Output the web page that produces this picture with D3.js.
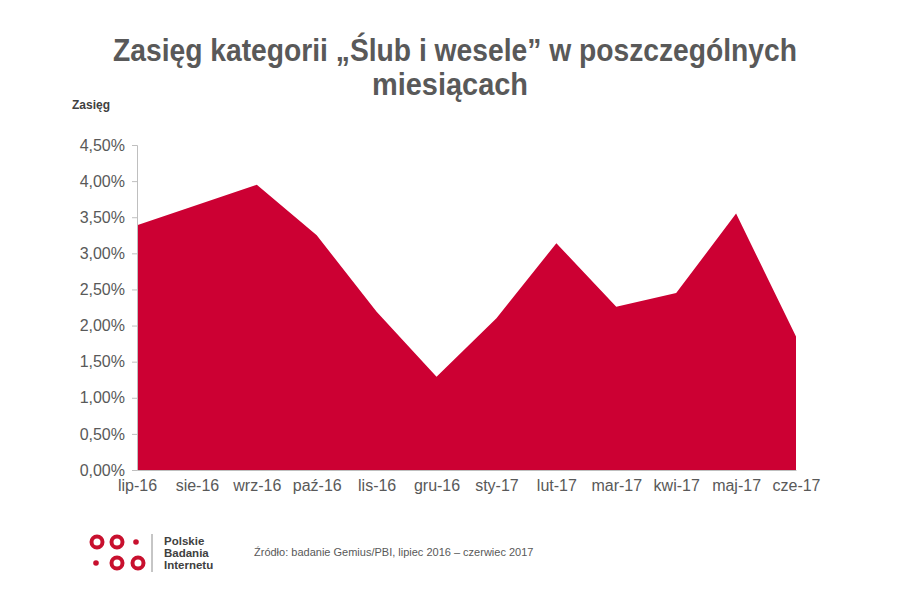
<html>
<head>
<script src="https://d3js.org/d3.v7.min.js"></script>
<style>
  body { margin: 0; background: #fff; }
  svg { font-family: "Liberation Sans Narrow", "Arial Narrow", "Liberation Sans", sans-serif; }
</style>
</head>
<body>
<svg id="chart"></svg>
<script>
const months = ["lip-16", "sie-16", "wrz-16", "paź-16", "lis-16", "gru-16",
                "sty-17", "lut-17", "mar-17", "kwi-17", "maj-17", "cze-17"];
const reach = [3.39, 3.67, 3.95, 3.25, 2.19, 1.29, 2.10, 3.14, 2.26, 2.45, 3.55, 1.85];
const yTicks = [0, 0.5, 1, 1.5, 2, 2.5, 3, 3.5, 4, 4.5];

const width = 900, height = 600;
const svg = d3.select("#chart").attr("width", width).attr("height", height);

const x = d3.scalePoint().domain(months).range([137, 796]);
const y = d3.scaleLinear().domain([0, 4.5]).range([470, 145]);

// area
const area = d3.area()
    .x((d, i) => x(months[i]))
    .y0(y(0))
    .y1(d => y(d));

svg.append("path")
    .datum(reach)
    .attr("d", area)
    .attr("fill", "#cc0033");

// y axis
const fmt = d => d.toFixed(2).replace(".", ",") + "%";
const yAxis = svg.append("g")
    .attr("transform", `translate(${x(months[0])},0)`)
    .call(d3.axisLeft(y).tickValues(yTicks).tickFormat(fmt).tickSize(5).tickPadding(7));
yAxis.select(".domain").attr("stroke", "#bfbfbf");
yAxis.selectAll(".tick line").attr("stroke", "#bfbfbf");
yAxis.selectAll("text").attr("fill", "#595959").style("font-size", "16px")
    .style("font-family", "'Liberation Sans Narrow', 'Arial Narrow', sans-serif");

// x axis
const xAxis = svg.append("g")
    .attr("transform", `translate(0,${y(0)})`)
    .call(d3.axisBottom(x).tickSize(0).tickPadding(10));
xAxis.select(".domain").attr("stroke", "#bfbfbf");
xAxis.selectAll("text").attr("fill", "#595959").style("font-size", "16px")
    .style("font-family", "'Liberation Sans Narrow', 'Arial Narrow', sans-serif");

// title (condensed to match the narrow original face)
const title = svg.append("g")
    .attr("fill", "#595959")
    .style("font-size", "31px")
    .style("font-weight", "bold");
title.append("text")
    .attr("x", 113).attr("y", 61)
    .attr("textLength", 684).attr("lengthAdjust", "spacingAndGlyphs")
    .text("Zasięg kategorii „Ślub i wesele” w poszczególnych");
title.append("text")
    .attr("x", 372).attr("y", 95)
    .attr("textLength", 156).attr("lengthAdjust", "spacingAndGlyphs")
    .text("miesiącach");

svg.append("text")
    .attr("x", 72).attr("y", 109)
    .attr("fill", "#404040")
    .style("font-family", "'Liberation Sans', Arial, sans-serif")
    .style("font-size", "12px")
    .style("font-weight", "bold")
    .text("Zasięg");

// logo
const logo = svg.append("g");
const rings = [[97, 542], [117, 542], [117, 563], [138, 563]];
const dots = [[136, 542], [96, 563]];
logo.selectAll("circle.ring").data(rings).join("circle")
    .attr("class", "ring")
    .attr("cx", d => d[0]).attr("cy", d => d[1]).attr("r", 5.5)
    .attr("fill", "none").attr("stroke", "#c8102e").attr("stroke-width", 4);
logo.selectAll("circle.dot").data(dots).join("circle")
    .attr("class", "dot")
    .attr("cx", d => d[0]).attr("cy", d => d[1]).attr("r", 2.8)
    .attr("fill", "#c8102e");
logo.append("line")
    .attr("x1", 152).attr("x2", 152).attr("y1", 534).attr("y2", 572)
    .attr("stroke", "#8c8c8c").attr("stroke-width", 1);
["Polskie", "Badania", "Internetu"].forEach((t, i) => {
  logo.append("text")
      .attr("x", 164).attr("y", 545 + i * 12)
      .attr("fill", "#404040")
      .style("font-family", "'Liberation Sans', Arial, sans-serif")
      .style("font-size", "11.5px")
      .style("font-weight", "bold")
      .text(t);
});

svg.append("text")
    .attr("x", 254).attr("y", 556)
    .attr("fill", "#595959")
    .style("font-family", "'Liberation Sans', Arial, sans-serif")
    .style("font-size", "11px")
    .text("Źródło: badanie Gemius/PBI,  lipiec  2016 – czerwiec 2017");
</script>
</body>
</html>
